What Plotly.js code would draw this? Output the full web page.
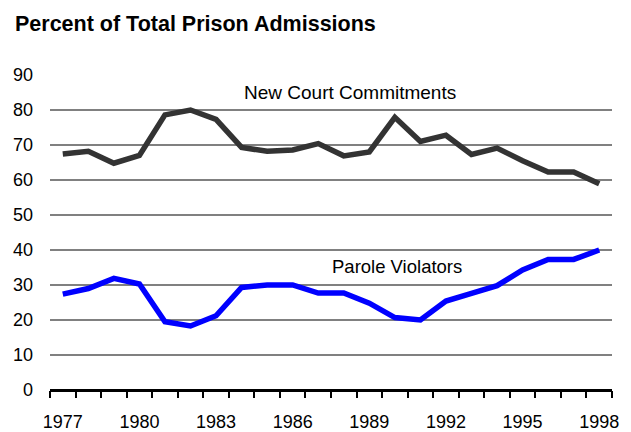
<!DOCTYPE html>
<html>
<head>
<meta charset="utf-8">
<script src="https://cdn.plot.ly/plotly-3.0.1.min.js"></script>
<style>html,body{margin:0;padding:0;background:#fff;}#chart{width:631px;height:432px;}</style>
</head>
<body>
<div id="chart"></div>
<script>
const years = [1977,1978,1979,1980,1981,1982,1983,1984,1985,1986,1987,1988,1989,1990,1991,1992,1993,1994,1995,1996,1997,1998];
const newCourt = [67.4,68.2,64.8,67.0,78.6,80.0,77.3,69.3,68.2,68.6,70.4,66.9,68.0,77.9,71.0,72.8,67.3,69.1,65.5,62.3,62.3,58.9];
const parole = [27.4,29.0,31.9,30.3,19.5,18.3,21.2,29.3,30.0,30.0,27.7,27.7,24.8,20.7,20.0,25.4,27.6,29.8,34.3,37.3,37.3,40.0];
const xTickVals = [1977,1980,1983,1986,1989,1992,1995,1998];
const yTickVals = [0,10,20,30,40,50,60,70,80,90];

const traces = [
  {x: years, y: newCourt, type: 'scatter', mode: 'lines', name: 'New Court Commitments',
   line: {color: '#333333', width: 5.5}},
  {x: years, y: parole, type: 'scatter', mode: 'lines', name: 'Parole Violators',
   line: {color: '#0000ff', width: 5.5}}
];

const layout = {
  width: 631, height: 432,
  margin: {l: 50, r: 19, t: 75, b: 42},
  paper_bgcolor: '#ffffff', plot_bgcolor: '#ffffff',
  showlegend: false,
  font: {family: 'Liberation Sans, Arial, sans-serif', size: 18, color: '#000'},
  title: {text: '<b>Percent of Total Prison Admissions</b>', x: 15/631, xref: 'container', xanchor: 'left',
          y: 1 - 23/432, yref: 'container', yanchor: 'middle',
          font: {size: 21.5, color: '#000', family: 'Liberation Sans, Arial, sans-serif'}},
  xaxis: {
    range: [1976.5, 1998.5], tickmode: 'array', tickvals: xTickVals,
    ticks: 'outside', ticklen: 6, tickcolor: 'rgba(0,0,0,0)', ticklabelstandoff: 9,
    showgrid: false, zeroline: false, showline: false,
    tickfont: {size: 18},
    minor: {tick0: 1976.5, dtick: 1, ticks: 'outside', ticklen: 7, tickwidth: 2, tickcolor: '#000', showgrid: false}
  },
  yaxis: {
    range: [0, 90], tickmode: 'array', tickvals: yTickVals,
    ticks: '', showgrid: true, gridcolor: '#808080', gridwidth: 2,
    zeroline: true, zerolinecolor: '#000', zerolinewidth: 3,
    showline: false, ticklabelstandoff: 16, tickfont: {size: 18}
  },
  annotations: [
    {x: 1988.24, y: 85.1, xref: 'x', yref: 'y', text: 'New Court Commitments', showarrow: false,
     font: {size: 19, color: '#000'}},
    {x: 1990.1, y: 35.2, xref: 'x', yref: 'y', text: 'Parole Violators', showarrow: false,
     font: {size: 18.5, color: '#000'}}
  ]
};

Plotly.newPlot('chart', traces, layout, {displayModeBar: false, staticPlot: true});
</script>
</body>
</html>
